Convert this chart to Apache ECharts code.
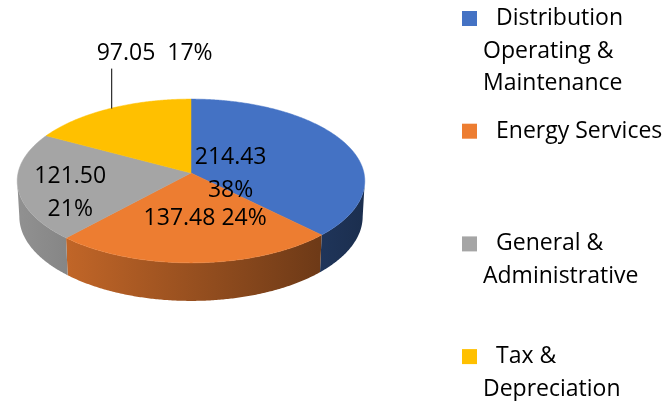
<!DOCTYPE html>
<html>
<head>
<meta charset="utf-8">
<script src="https://cdn.jsdelivr.net/npm/echarts@6/dist/echarts.min.js"></script>
<style>
  html, body { margin: 0; padding: 0; background: #fff; }
  #chart { width: 670px; height: 401px; }
</style>
</head>
<body>
<div id="chart"></div>
<script>
// data
const categories = ['Distribution Operating & Maintenance', 'Energy Services', 'General & Administrative', 'Tax & Depreciation']
const values = [214.43, 137.48, 121.50, 97.05]
const legendLines = [
  ['Distribution', 'Operating &', 'Maintenance'],
  ['Energy Services'],
  ['General &', 'Administrative'],
  ['Tax &', 'Depreciation']
]
const colors = ['#4472c4', '#ed7d31', '#a5a5a5', '#ffc000']

// 3D pie look (perspective view of a short cylinder)
const view = { cx: 191, cy: 173, k: 1567, D: 9.06, sa: 0.469, ca: 0.883, h: 0.235 }
const labelSep = ['\n', ' ', '\n', '  ']
const labelPos = [[0.25, 0, 9], [0.52, 12, 1], [0.70, 0, 10], [1, 0, 0]]
const FONT = 'Open Sans'

const total = values.reduce((a, b) => a + b, 0)
const deg = Math.PI / 180
// angles where the side of the cylinder turns out of sight
const edgeR = Math.acos(-view.ca / view.D)
const edgeL = 2 * Math.PI - edgeR

function project (r, theta, Y) {
  const X = r * Math.sin(theta)
  const Z = -r * Math.cos(theta)
  const w = view.D - Z * view.ca - Y * view.sa
  return [view.cx + view.k * X / w, view.cy + view.k * (Z * view.sa - Y * view.ca) / w]
}

function shade (hex, f) {
  const n = parseInt(hex.slice(1), 16)
  const r = Math.round(((n >> 16) & 255) * f)
  const g = Math.round(((n >> 8) & 255) * f)
  const b = Math.round((n & 255) * f)
  return 'rgb(' + r + ',' + g + ',' + b + ')'
}

function sliceAngles (i) {
  let before = 0
  for (let j = 0; j < i; j++) before += values[j]
  return [before / total * 2 * Math.PI, (before + values[i]) / total * 2 * Math.PI]
}

function renderSlice (params) {
  const i = params.seriesIndex
  const [a0, a1] = sliceAngles(i)
  const color = colors[i]
  const children = []
  // side wall, visible front part only
  const w0 = Math.max(a0, edgeR)
  const w1 = Math.min(a1, edgeL)
  if (w1 > w0) {
    const n = Math.ceil((w1 - w0) / (0.5 * deg))
    const topArc = []
    const botArc = []
    for (let s = 0; s <= n; s++) {
      const t = w0 + (w1 - w0) * s / n
      topArc.push(project(1, t, 0))
      botArc.unshift(project(1, t, -view.h))
    }
    const xl = project(1, edgeL, 0)[0]
    const xr = project(1, edgeR, 0)[0]
    const grad = new echarts.graphic.LinearGradient(xl, 0, xr, 0, [
      { offset: 0, color: shade(color, 0.88) },
      { offset: 1, color: shade(color, 0.40) }
    ], true)
    children.push({
      type: 'polygon',
      shape: { points: topArc.concat(botArc) },
      style: { fill: grad }
    })
  }
  // top face
  const pts = [project(0, 0, 0)]
  const m = Math.ceil((a1 - a0) / (0.5 * deg))
  for (let s = 0; s <= m; s++) pts.push(project(1, a0 + (a1 - a0) * s / m, 0))
  children.push({
    type: 'polygon',
    shape: { points: pts },
    style: { fill: color, stroke: color, lineWidth: 0.5 }
  })
  return { type: 'group', children }
}

function renderLabel (params) {
  const i = params.dataIndex
  const [a0, a1] = sliceAngles(i)
  const mid = (a0 + a1) / 2
  const pct = Math.round(values[i] / total * 100) + '%'
  const text = values[i].toFixed(2) + labelSep[i] + pct
  const pos = labelPos[i]
  const p = project(pos[0], mid, 0)
  const textStyle = { text, fill: '#000', fontSize: 23, fontFamily: FONT, lineHeight: 33, verticalAlign: 'middle' }
  if (pos[0] < 1) {
    return {
      type: 'text',
      x: p[0] + pos[1],
      y: p[1] + pos[2],
      style: Object.assign({ align: 'center' }, textStyle)
    }
  }
  // outside label with leader line
  return {
    type: 'group',
    children: [
      { type: 'line', shape: { x1: p[0] + 2, y1: p[1], x2: p[0] + 2, y2: p[1] - 40 }, style: { stroke: '#000', lineWidth: 1 } },
      { type: 'text', x: p[0] - 13, y: p[1] - 55, style: Object.assign({ align: 'left' }, textStyle) }
    ]
  }
}

const rich = {
  a: { fontSize: 23, fontFamily: FONT, color: '#000', lineHeight: 32.5, padding: [0, 0, 0, 19] },
  b: { fontSize: 23, fontFamily: FONT, color: '#000', lineHeight: 32.5, padding: [0, 0, 0, 21] }
}
colors.forEach((c, i) => {
  rich['sq' + i] = { width: 15, height: 15, backgroundColor: c }
})

const legendTops = [7, 119.7, 232.4, 345.1]

let myChart = echarts.init(document.getElementById('chart'))
myChart.setOption({
  animation: false,
  backgroundColor: '#fff',
  legend: categories.map((name, i) => ({
    data: [name],
    orient: 'vertical',
    left: 457,
    top: legendTops[i],
    padding: 0,
    itemWidth: 0,
    itemHeight: 0,
    selectedMode: false,
    formatter: function (n) {
      const idx = categories.indexOf(n)
      const lines = legendLines[idx]
      let s = '{sq' + idx + '|}{a|' + lines[0] + '}'
      for (let j = 1; j < lines.length; j++) s += '\n{b|' + lines[j] + '}'
      return s
    },
    textStyle: { rich }
  })),
  series: categories.map((name, i) => ({
    name,
    type: 'custom',
    coordinateSystem: 'none',
    silent: true,
    z: 2,
    itemStyle: { color: colors[i] },
    renderItem: renderSlice,
    data: [[values[i]]]
  })).concat([{
    name: 'labels',
    type: 'custom',
    coordinateSystem: 'none',
    silent: true,
    z: 5,
    renderItem: renderLabel,
    data: values.map(v => [v])
  }])
})
</script>
</body>
</html>
